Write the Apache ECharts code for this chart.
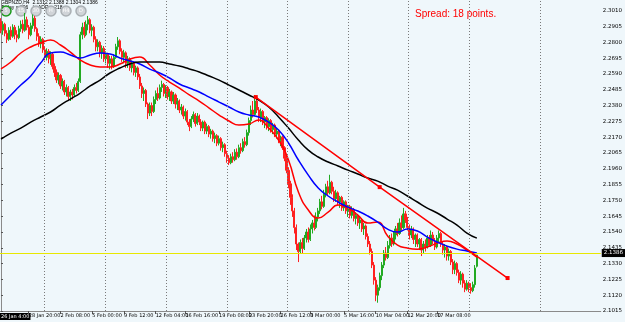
<!DOCTYPE html>
<html>
<head>
<meta charset="utf-8">
<script src="https://cdn.jsdelivr.net/npm/echarts@6/dist/echarts.min.js"></script>
<style>
html, body { margin: 0; padding: 0; background: #eff7fb; }
#view { width: 625px; height: 322px; }
</style>
</head>
<body>
<div id="view"></div>
<script>
// prices are written as pips above 2.0000 (2850 -> 2.2850)
// candles: [open, close, low, high], one per H4 bar
const ohlc = [
  [2940,2880,2860,2960],[2880,2920,2850,2940],[2920,2860,2840,2930],[2860,2820,2795,2880],
  [2820,2880,2810,2900],[2880,2840,2815,2905],[2840,2900,2830,2920],[2900,2850,2820,2915],
  [2850,2830,2800,2880],[2830,2890,2820,2910],[2890,2920,2870,2945],[2920,2880,2860,2950],
  [2880,2950,2870,2995],[2950,2900,2880,2970],[2900,2850,2820,2915],[2850,2910,2840,2930],
  [2910,2960,2890,2985],[2960,2890,2870,2975],[2890,2840,2810,2900],[2840,2790,2770,2860],
  [2790,2820,2760,2840],[2820,2750,2730,2830],[2750,2700,2680,2770],[2700,2740,2680,2760],
  [2740,2690,2660,2755],[2690,2720,2650,2740],[2720,2640,2620,2730],[2640,2600,2570,2660],
  [2600,2550,2530,2620],[2550,2580,2520,2600],[2580,2510,2490,2590],[2510,2540,2480,2560],
  [2540,2470,2450,2550],[2470,2500,2440,2520],[2500,2440,2415,2510],[2440,2470,2410,2485],
  [2470,2450,2420,2490],[2450,2500,2440,2520],[2500,2480,2460,2530],[2480,2540,2470,2560],
  [2540,2850,2530,2870],[2850,2900,2820,2930],[2900,2850,2830,2935],[2850,2920,2840,2945],
  [2920,2950,2880,2975],[2950,2880,2860,2960],[2880,2900,2840,2920],[2900,2820,2800,2910],
  [2820,2770,2740,2840],[2770,2800,2740,2820],[2800,2730,2700,2810],[2730,2760,2690,2780],
  [2760,2690,2670,2775],[2690,2720,2660,2740],[2720,2660,2630,2730],[2660,2690,2620,2710],
  [2690,2640,2620,2710],[2640,2700,2630,2720],[2700,2770,2690,2790],[2770,2810,2750,2835],
  [2810,2740,2720,2820],[2740,2700,2670,2760],[2700,2730,2660,2750],[2730,2660,2630,2740],
  [2660,2690,2630,2710],[2690,2630,2610,2700],[2630,2660,2600,2680],[2660,2600,2580,2670],
  [2600,2630,2570,2645],[2630,2570,2550,2640],[2570,2510,2490,2590],[2510,2460,2430,2530],
  [2460,2480,2410,2500],[2480,2390,2370,2490],[2390,2330,2290,2400],[2330,2380,2310,2400],
  [2380,2340,2310,2400],[2340,2420,2330,2440],[2420,2460,2390,2480],[2460,2430,2410,2500],
  [2430,2500,2420,2520],[2500,2520,2470,2545],[2520,2460,2440,2530],[2460,2500,2430,2515],
  [2500,2440,2420,2510],[2440,2470,2410,2490],[2470,2410,2390,2480],[2410,2450,2390,2470],
  [2450,2390,2360,2460],[2390,2410,2350,2430],[2410,2350,2330,2420],[2350,2370,2320,2390],
  [2370,2310,2290,2380],[2310,2340,2280,2360],[2340,2270,2250,2350],[2270,2240,2210,2290],
  [2240,2290,2230,2310],[2290,2320,2270,2340],[2320,2260,2240,2330],[2260,2310,2250,2330],
  [2310,2270,2250,2320],[2270,2230,2210,2290],[2230,2270,2210,2280],[2270,2210,2190,2280],
  [2210,2240,2190,2260],[2240,2190,2170,2250],[2190,2210,2160,2225],[2210,2160,2140,2220],
  [2160,2180,2130,2200],[2180,2130,2110,2190],[2130,2160,2115,2180],[2160,2100,2080,2170],
  [2100,2120,2070,2140],[2120,2060,2040,2130],[2060,2030,2000,2080],[2030,2000,1985,2050],
  [2000,2040,1990,2060],[2040,2020,2000,2070],[2020,2070,2010,2090],[2070,2040,2020,2095],
  [2040,2100,2030,2120],[2100,2080,2060,2130],[2080,2140,2070,2160],[2140,2120,2100,2170],
  [2120,2200,2110,2220],[2200,2280,2180,2300],[2280,2350,2250,2380],[2350,2320,2300,2410],
  [2320,2410,2310,2450],[2410,2350,2330,2425],[2350,2300,2270,2370],[2300,2340,2270,2360],
  [2340,2270,2250,2350],[2270,2300,2230,2310],[2300,2240,2220,2310],[2240,2280,2210,2295],
  [2280,2220,2200,2290],[2220,2250,2190,2265],[2250,2190,2170,2260],[2190,2210,2160,2230],
  [2210,2150,2130,2220],[2150,2170,2110,2180],[2170,2100,2085,2180],[2100,2030,2010,2110],
  [2030,1950,1930,2050],[1950,1860,1830,1970],[1860,1770,1720,1880],[1770,1680,1640,1790],
  [1680,1570,1530,1700],[1570,1460,1420,1590],[1460,1410,1340,1470],[1410,1470,1395,1490],
  [1470,1430,1400,1500],[1430,1500,1420,1520],[1500,1540,1470,1560],[1540,1490,1470,1570],
  [1490,1560,1480,1590],[1560,1600,1530,1620],[1600,1570,1550,1650],[1570,1640,1560,1670],
  [1640,1680,1610,1700],[1680,1740,1660,1760],[1740,1710,1690,1780],[1710,1790,1700,1820],
  [1790,1840,1770,1860],[1840,1800,1780,1880],[1800,1870,1790,1920],[1870,1810,1790,1880],
  [1810,1760,1740,1840],[1760,1800,1740,1820],[1800,1740,1720,1810],[1740,1770,1700,1780],
  [1770,1700,1680,1780],[1700,1740,1680,1750],[1740,1680,1660,1750],[1680,1710,1640,1720],
  [1710,1650,1630,1720],[1650,1690,1630,1710],[1690,1630,1610,1700],[1630,1650,1590,1670],
  [1650,1600,1580,1660],[1600,1620,1560,1640],[1620,1560,1540,1630],[1560,1580,1520,1600],
  [1580,1510,1490,1590],[1510,1460,1440,1530],[1460,1410,1390,1480],[1410,1320,1300,1430],
  [1320,1220,1190,1340],[1220,1120,1080,1240],[1120,1170,1070,1190],[1170,1250,1150,1270],
  [1250,1320,1220,1340],[1320,1400,1300,1420],[1400,1370,1350,1440],[1370,1450,1360,1480],
  [1450,1500,1430,1520],[1500,1460,1440,1530],[1460,1520,1450,1540],[1520,1560,1490,1580],
  [1560,1530,1510,1600],[1530,1600,1520,1630],[1600,1570,1550,1650],[1570,1660,1560,1700],
  [1660,1620,1600,1680],[1620,1570,1550,1640],[1570,1520,1490,1590],[1520,1560,1500,1580],
  [1560,1490,1460,1570],[1490,1520,1440,1530],[1520,1460,1440,1530],[1460,1490,1420,1500],
  [1490,1420,1380,1500],[1420,1460,1400,1480],[1460,1440,1410,1490],[1440,1500,1430,1520],
  [1500,1450,1440,1520],[1450,1520,1440,1550],[1520,1480,1460,1540],[1480,1440,1420,1500],
  [1440,1500,1430,1520],[1500,1530,1470,1550],[1530,1460,1440,1540],[1460,1420,1390,1480],
  [1420,1440,1370,1460],[1440,1380,1350,1450],[1380,1410,1350,1430],[1410,1340,1320,1420],
  [1340,1290,1260,1360],[1290,1330,1260,1350],[1330,1270,1250,1340],[1270,1220,1200,1290],
  [1220,1260,1190,1280],[1260,1200,1170,1270],[1200,1160,1140,1220],[1160,1200,1150,1220],
  [1200,1170,1140,1210],[1170,1150,1130,1200],[1150,1190,1140,1210],[1190,1300,1170,1320],
  [1312,1386,1304,1388]
];

// moving averages, one value every maStep bars
const maStep = 5;
const maRed = [2623,2669,2729,2769,2795,2815,2782,2735,2682,2649,2636,2636,2656,2689,2702,2649,2583,2536,2496,2450,
  2410,2363,2317,2277,2250,2257,2284,2230,2151,2018,1805,1686,1632,1672,1719,1699,1652,1599,1606,1513,
  1453,1433,1426,1440,1466,1480,1460,1420,1373];
const maBlue = [2383,2450,2516,2576,2662,2729,2735,2716,2696,2716,2729,2722,2696,2676,2656,2622,2596,2563,2523,2496,
  2470,2436,2403,2370,2337,2317,2304,2270,2217,2131,2018,1918,1832,1779,1739,1705,1679,1646,1606,1559,
  1539,1559,1546,1506,1473,1446,1426,1413,1400];
const maBlack = [2157,2197,2230,2270,2304,2337,2383,2423,2463,2510,2549,2596,2629,2656,2669,2669,2669,2656,2642,2623,
  2603,2576,2549,2516,2483,2450,2416,2370,2304,2230,2151,2084,2038,2005,1978,1951,1925,1898,1878,1845,
  1818,1779,1739,1699,1666,1626,1586,1533,1499];

// trend line: bar position and price at its two ends and middle handle
const trendIdx = [128.5, 191, 255.5];
const trendVal = [2436, 1838, 1234];

const priceTicks = [2.1015, 2.1120, 2.1225, 2.1330, 2.1435, 2.1540, 2.1645, 2.1750, 2.1855, 2.1960,
  2.2065, 2.2170, 2.2275, 2.2380, 2.2485, 2.2590, 2.2695, 2.2800, 2.2905, 2.3010];
const timeIdx = [14, 30, 46, 62, 78, 93, 110, 125, 141, 156, 173, 189, 205, 220, 236];
const timeText = ["28 Jan 20:00", "2 Feb 08:00", "5 Feb 00:00", "9 Feb 12:00", "12 Feb 04:00",
  "16 Feb 16:00", "19 Feb 08:00", "23 Feb 20:00", "26 Feb 12:00", "3 Mar 00:00", "5 Mar 16:00",
  "10 Mar 04:00", "12 Mar 20:00", "17 Mar 08:00", "22 Mar 00:00"];
const gridIdx = [22, 52.5, 83.5, 114, 144.5, 175, 205.5, 236, 272];
const lastPrice = 2.1386;
const slots = 303;

const toPrice = (v) => +(2 + v / 10000).toFixed(4);
const maData = (arr) => arr.map((v, k) => [k * maStep, toPrice(v)]);

let myChart = echarts.init(document.getElementById("view"), null, { renderer: "canvas" });

const tinyFont = { fontFamily: "DejaVu Sans", fontSize: 5, color: "#000" };

// vertical dotted grid + yellow last-price line
let markLines = gridIdx.map((v) => ({
  xAxis: v,
  label: { show: false },
  lineStyle: { color: "#7a7a7a", type: [1, 2], width: 1 },
}));
markLines.push({
  yAxis: lastPrice,
  lineStyle: { color: "#e8e800", type: "solid", width: 1.2 },
  label: {
    show: true,
    position: "end",
    distance: 1,
    formatter: lastPrice.toFixed(4),
    backgroundColor: "#000",
    color: "#fff",
    fontFamily: "DejaVu Sans",
    fontSize: 5.5,
    padding: [1, 2],
  },
});

let option = {
  backgroundColor: "#eff7fb",
  animation: false,
  grid: { left: 0, right: 19, top: 0, bottom: 11 },
  xAxis: [
    {
      type: "category",
      data: Array.from({ length: slots }, (_, i) => i),
      boundaryGap: true,
      axisLine: { lineStyle: { color: "#8a8a8a", width: 1 } },
      axisTick: {
        show: true,
        length: 3,
        alignWithLabel: true,
        interval: (idx) => timeIdx.includes(idx),
        lineStyle: { color: "#555" },
      },
      axisLabel: {
        ...tinyFont,
        margin: 2,
        align: "left",
        hideOverlap: false,
        interval: (idx) => timeIdx.includes(idx),
        formatter: (val, idx) => timeText[timeIdx.indexOf(+val)] || "",
      },
      splitLine: { show: false },
    },
    { type: "value", min: -0.5, max: slots - 0.5, show: false },
  ],
  yAxis: {
    type: "value",
    position: "right",
    min: 2.1015,
    max: 2.3081,
    axisLine: { show: true, lineStyle: { color: "#8a8a8a" } },
    axisTick: { show: true, length: 2, customValues: priceTicks, lineStyle: { color: "#555" } },
    axisLabel: {
      ...tinyFont,
      fontSize: 5.5,
      margin: 2,
      customValues: priceTicks,
      formatter: (v) => v.toFixed(4),
    },
    splitLine: { show: false },
  },
  series: [
    {
      type: "line",
      xAxisIndex: 1,
      data: [],
      silent: true,
      z: 1,
      markLine: {
        silent: true,
        symbol: "none",
        animation: false,
        data: markLines,
      },
    },
    {
      type: "candlestick",
      xAxisIndex: 0,
      barWidth: 1.6,
      z: 3,
      data: ohlc.map((d) => d.map(toPrice)),
      itemStyle: {
        color: "#22aa22",
        color0: "#ff2020",
        borderColor: "#22aa22",
        borderColor0: "#ff2020",
        borderWidth: 1,
      },
    },
    {
      type: "line",
      xAxisIndex: 1,
      data: maData(maRed),
      smooth: true,
      showSymbol: false,
      z: 4,
      lineStyle: { color: "#ff0000", width: 1.5 },
    },
    {
      type: "line",
      xAxisIndex: 1,
      data: maData(maBlue),
      smooth: true,
      showSymbol: false,
      z: 4,
      lineStyle: { color: "#0000ff", width: 1.5 },
    },
    {
      type: "line",
      xAxisIndex: 1,
      data: maData(maBlack),
      smooth: true,
      showSymbol: false,
      z: 4,
      lineStyle: { color: "#000000", width: 1.5 },
    },
    {
      type: "line",
      xAxisIndex: 1,
      data: trendIdx.map((x, k) => [x, toPrice(trendVal[k])]),
      symbol: "rect",
      symbolSize: 4,
      z: 5,
      itemStyle: { color: "#ff0000" },
      lineStyle: { color: "#ff0000", width: 1.5 },
    },
  ],
  graphic: [
    {
      type: "text",
      left: 1,
      top: 0,
      style: { text: "GBPNZD,H4  2.1312 2.1388 2.1304 2.1386", font: "5px Liberation Sans", fill: "#000" },
    },
    {
      type: "text",
      left: 1,
      top: 5,
      style: { text: "Today = 206   |   ADR = 218", font: "5px Liberation Sans", fill: "#000" },
    },
    ...["5", "15", "30", "H", "H4", "D"].map((t, k) => ({
      type: "group",
      x: 6 + k * 15,
      y: 11,
      children: [
        {
          type: "circle",
          shape: { cx: 0, cy: 0, r: 5 },
          style: { fill: "#d0d4d8", stroke: k === 0 ? "#1a9a1a" : "#aab0b4", lineWidth: 1.5 },
        },
        {
          type: "text",
          style: { text: t, x: 0, y: 0, align: "center", verticalAlign: "middle", font: "5px DejaVu Sans", fill: "#fff" },
        },
      ],
    })),
    {
      type: "text",
      left: 415,
      top: 9,
      style: { text: "Spread: 18 points.", font: "10px Liberation Sans", fill: "#ff0000" },
    },
    {
      type: "text",
      left: 0,
      top: 313,
      style: {
        text: "26 Jan 4:00",
        font: "5px DejaVu Sans",
        fill: "#fff",
        backgroundColor: "#000",
        padding: [1, 1],
      },
    },
  ],
};
myChart.setOption(option);
</script>
</body>
</html>
